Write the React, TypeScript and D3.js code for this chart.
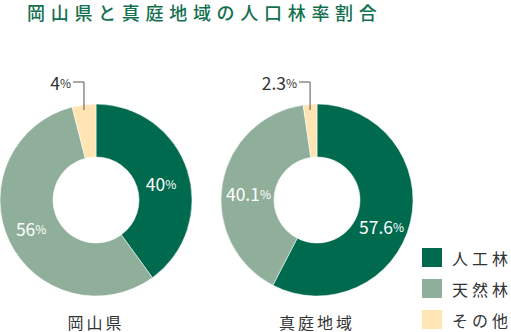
import React from "react";
import * as d3 from "d3";

const categories = ["人工林", "天然林", "その他"];
const regions = ["岡山県", "真庭地域"];
const okayamaValues = [40, 56, 4];
const manivaValues = [57.6, 40.1, 2.3];
const valueLabels = [["40", "56", "4"], ["57.6", "40.1", "2.3"]];
const colors = ["#006a4e", "#8faf9a", "#ffe5b3"];
const title = "岡山県と真庭地域の人口林率割合";

// small label nudges (style), relative to arc centroid
const labelNudges = [
  [[-1, 4], [-2, -2], [0, 0]],
  [[-3, 10], [0, 5], [0, 0]],
];

const FONT = "'Noto Sans CJK JP', 'Noto Sans', sans-serif";

function Donut({ cx, cy, values, labels, name, nudges }: { cx: number; cy: number; values: number[]; labels: string[]; name: string; nudges: number[][] }) {
  const outer = 96;
  const inner = 43;
  const pie = d3.pie<number>().sort(null).value((d) => d);
  const arcs = pie(values);
  const arc = d3.arc<d3.PieArcDatum<number>>().innerRadius(inner).outerRadius(outer);
  return (
    <g transform={`translate(${cx},${cy})`}>
      {arcs.map((a, i) => (
        <path key={i} d={arc(a) || ""} fill={colors[i]} stroke="#fff" strokeWidth={0.5} />
      ))}
      {arcs.map((a, i) => {
        const small = a.value < 10;
        if (!small) {
          const [x, y] = arc.centroid(a);
          return (
            <text key={"t" + i} x={x + nudges[i][0]} y={y + nudges[i][1]} textAnchor="middle" dominantBaseline="central" fill="#fff" fontFamily={FONT}>
              <tspan fontSize={17.5}>{labels[i]}</tspan>
              <tspan fontSize={12}>%</tspan>
            </text>
          );
        }
        const mid = (a.startAngle + a.endAngle) / 2;
        const lx = Math.sin(mid) * outer;
        const yTop = -outer - 22;
        const yBot = -outer + 6;
        return (
          <g key={"t" + i}>
            <polyline points={`${lx - 11},${yTop} ${lx},${yTop} ${lx},${yBot}`} fill="none" stroke="#555" strokeWidth={1} />
            <text x={lx - 13} y={yTop} textAnchor="end" dominantBaseline="central" fill="#333" fontFamily={FONT}>
              <tspan fontSize={17.5}>{labels[i]}</tspan>
              <tspan fontSize={12}>%</tspan>
            </text>
          </g>
        );
      })}
      <text x={0} y={outer + 26} textAnchor="middle" dominantBaseline="central" fontSize={16} letterSpacing={3} fill="#333" fontFamily={FONT}>
        {name}
      </text>
    </g>
  );
}

export default function App() {
  return (
    <svg width={511} height={332} style={{ position: "absolute", left: 0, top: 0 }}>
      <rect width={511} height={332} fill="#fff" />
      <text x={27} y={12} dominantBaseline="central" fontSize={18} fontWeight={500} letterSpacing={5.7} fill="#13704f" fontFamily={FONT}>
        {title}
      </text>
      <Donut cx={96} cy={200} values={okayamaValues} labels={valueLabels[0]} name={regions[0]} nudges={labelNudges[0]} />
      <Donut cx={317} cy={200} values={manivaValues} labels={valueLabels[1]} name={regions[1]} nudges={labelNudges[1]} />
      {categories.map((c, i) => (
        <g key={c} transform={`translate(422,${248 + i * 31})`}>
          <rect width={20} height={19} fill={colors[i]} />
          <text x={30} y={9.5} dominantBaseline="central" fontSize={16} letterSpacing={4} fill="#333" fontFamily={FONT}>
            {c}
          </text>
        </g>
      ))}
    </svg>
  );
}
